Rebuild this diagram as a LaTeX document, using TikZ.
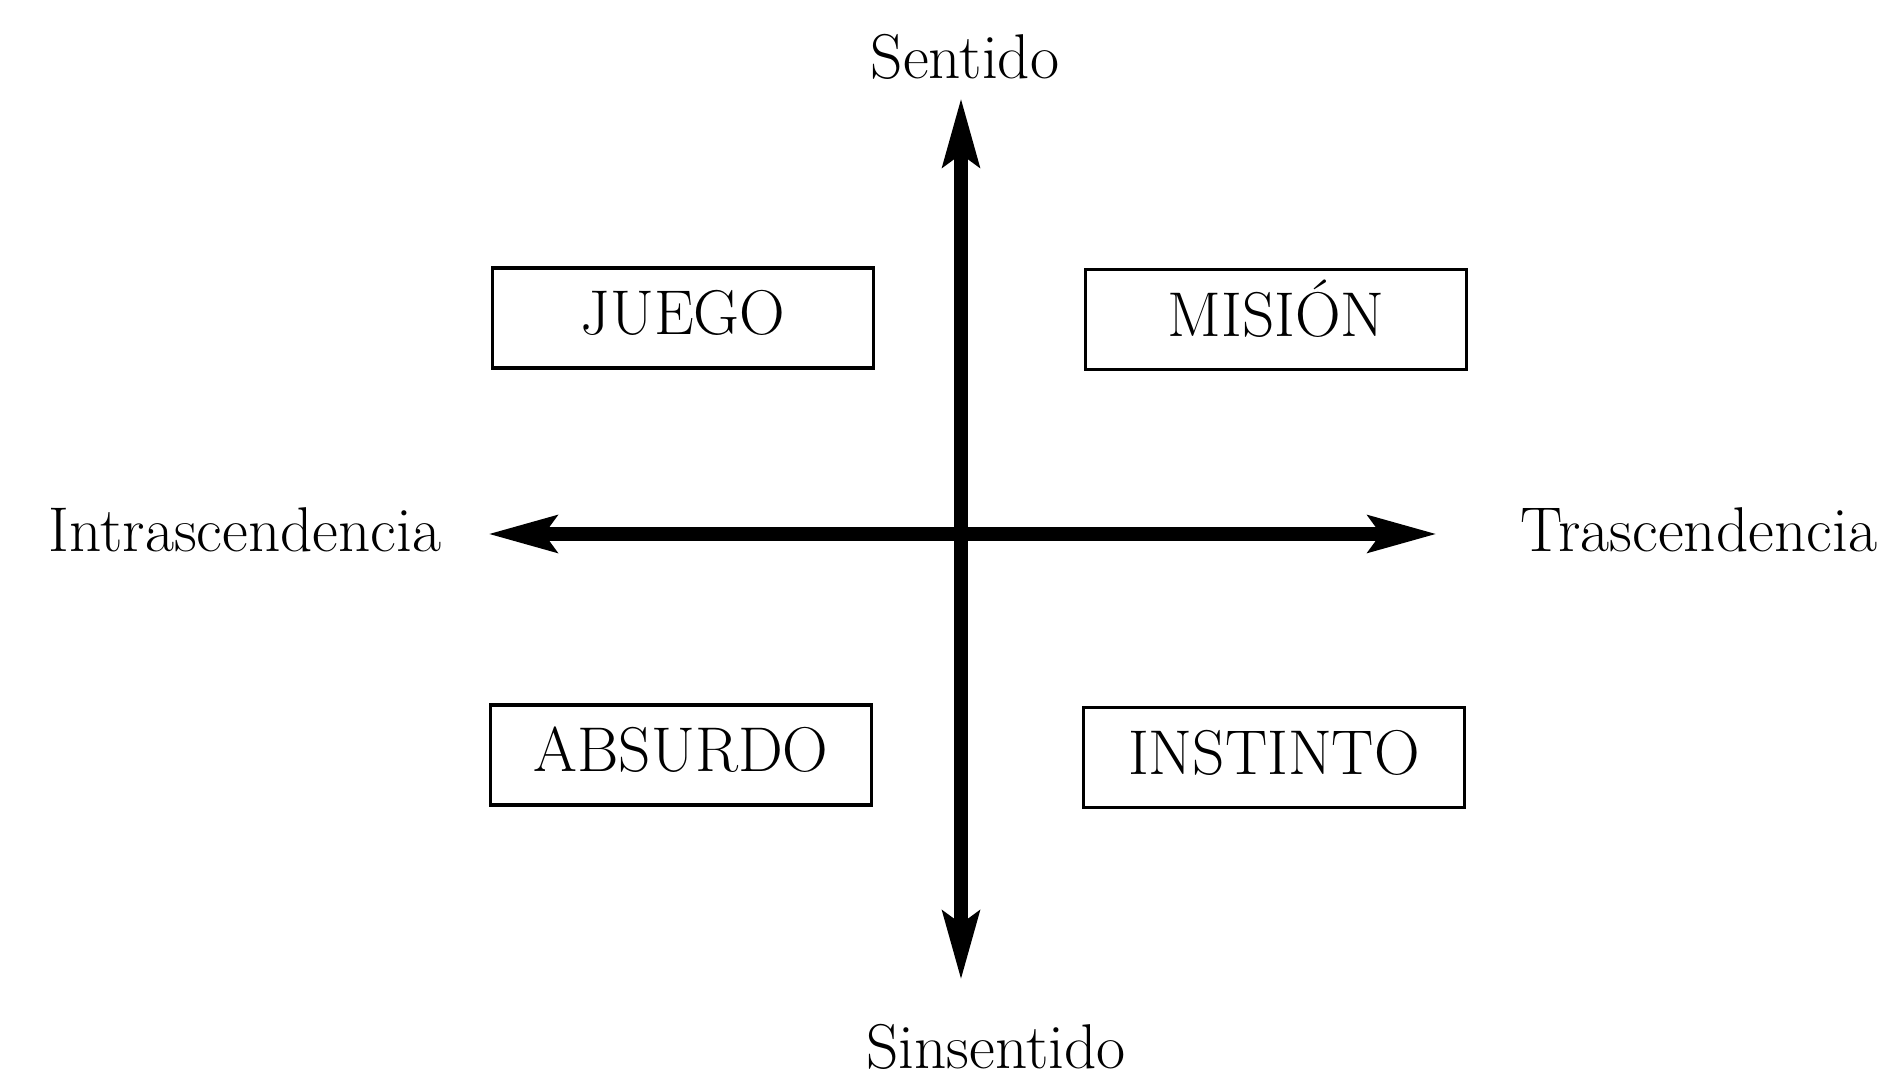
\documentclass[tikz,border=0pt]{standalone}
\usepackage{tikz}
\usetikzlibrary{arrows.meta,positioning,calc}

\begin{document}
\begin{tikzpicture}[
  >={Stealth[length=0.68cm, width=0.36cm, inset=0.12cm]},
  quad/.style={draw, line width=0.9pt, minimum width=3.81cm, minimum height=1.0cm,
               inner sep=0pt, text height=0.95em, text depth=0em,
               font=\fontsize{18}{21}\selectfont},
  pole/.style={font=\fontsize{18}{21}\selectfont, inner sep=0pt},
  axis/.style={line width=3.8pt, <->},
]
\useasboundingbox (0,0) rectangle (18.9,10.77);

% Axis ends
\coordinate (top) at (9.61, 9.79);
\coordinate (bot) at (9.61, 0.97);
\coordinate (lft) at (4.88, 5.43);
\coordinate (rgt) at (14.37, 5.43);

% Poles
\node[pole] (sentido) at (9.65, 10.20) {Sentido};
\node[pole] (sinsentido) at (9.96, 0.30) {Sinsentido};
\node[pole] (intra) at (2.45, 5.47) {Intrascendencia};
\node[pole] (tras) at (16.99, 5.47) {Trascendencia};

% Axes
\draw[axis] (bot) -- (top);
\draw[axis] (lft) -- (rgt);

% Quadrants
\node[quad] (juego) at (6.83, 7.59) {JUEGO};
\node[quad] (mision) at (12.76, 7.575) {MISIÓN};
\node[quad] (absurdo) at (6.81, 3.22) {ABSURDO};
\node[quad] (instinto) at (12.74, 3.195) {INSTINTO};
\end{tikzpicture}
\end{document}
